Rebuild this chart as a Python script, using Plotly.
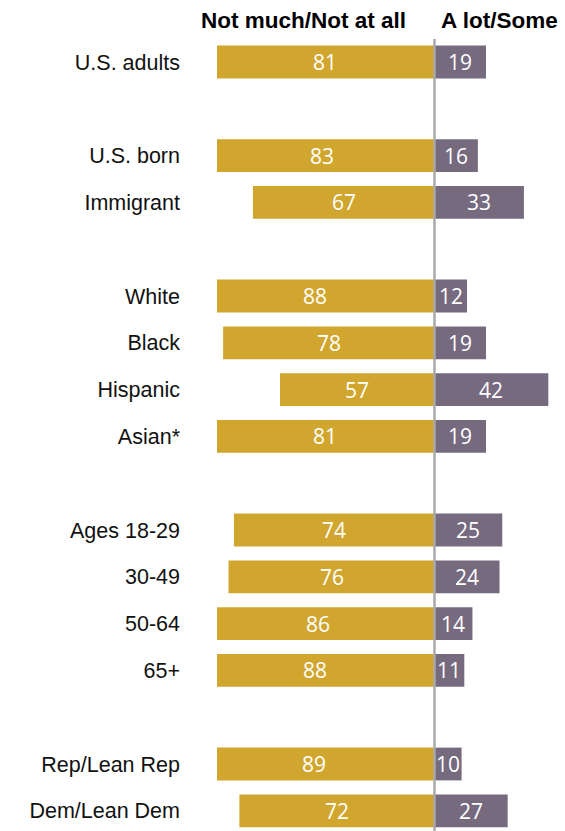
import plotly.graph_objects as go

# Survey groups (blank strings are spacer rows between groups)
groups = ["U.S. adults", "", "U.S. born", "Immigrant", "", "White", "Black", "Hispanic",
          "Asian*", "", "Ages 18-29", "30-49", "50-64", "65+", "", "Rep/Lean Rep", "Dem/Lean Dem"]
not_much = [81, None, 83, 67, None, 88, 78, 57, 81, None, 74, 76, 86, 88, None, 89, 72]
a_lot = [19, None, 16, 33, None, 12, 19, 42, 19, None, 25, 24, 14, 11, None, 10, 27]

GOLD = "#D1A62F"
PURPLE = "#766A7F"
W, H = 565, 831
LEFT = 217          # left edge of plotting area (px)
ZERO = 434.5        # pixel position of the zero line
PX = 2.71           # pixels per percentage point
ROW0, ROWH = 62, 46.8

rows = list(range(len(groups)))
ys = [r for r, v in zip(rows, not_much) if v is not None]
nm = [v for v in not_much if v is not None]
al = [v for v in a_lot if v is not None]
labels = [g for g in groups if g]

fig = go.Figure()
fig.add_trace(go.Bar(y=ys, x=[-v for v in nm], orientation="h", marker_color=GOLD,
                     marker_line_width=0, width=0.70, hoverinfo="skip"))
fig.add_trace(go.Bar(y=ys, x=al, orientation="h", marker_color=PURPLE,
                     marker_line_width=0, width=0.70, hoverinfo="skip"))

# value labels centred on each bar
val_font = dict(family="Open Sans, Liberation Sans", size=21, color="white")
for y, a, b in zip(ys, nm, al):
    fig.add_annotation(x=-a / 2, y=y, text=str(a), showarrow=False, xref="x", yref="y",
                       font=val_font)
    fig.add_annotation(x=b / 2, y=y, text=str(b), showarrow=False, xref="x", yref="y",
                       font=val_font)

# column headers
hdr_font = dict(family="Liberation Sans, Arial", size=22.5, color="black")
fig.add_annotation(x=(408 - ZERO) / PX, y=1 - 20 / H, xref="x", yref="paper",
                   xanchor="right", yanchor="middle",
                   text="<b>Not much/Not at all</b>", showarrow=False, font=hdr_font)
fig.add_annotation(x=(439 - ZERO) / PX, y=1 - 20 / H, xref="x", yref="paper",
                   xanchor="left", yanchor="middle",
                   text="<b>A lot/Some</b>", showarrow=False, font=hdr_font)

# zero line
fig.add_shape(type="line", xref="x", yref="paper", x0=0, x1=0, y0=0, y1=1 - 39 / H,
              line=dict(color="#A9A9A9", width=2.5), layer="above")

xr = [-(ZERO - LEFT) / PX, (W - ZERO) / PX]
yr = [(H - ROW0) / ROWH, -ROW0 / ROWH]

fig.update_layout(
    width=W, height=H, margin=dict(l=LEFT, r=0, t=0, b=0),
    paper_bgcolor="white", plot_bgcolor="white",
    barmode="overlay", showlegend=False,
    xaxis=dict(range=xr, visible=False, fixedrange=True),
    yaxis=dict(range=yr, tickmode="array", tickvals=ys, ticktext=labels,
               showgrid=False, zeroline=False, showline=False, ticks="",
               ticklabelstandoff=36,
               tickfont=dict(family="Liberation Sans, Arial", size=21.5, color="#111111")),
)

fig.write_html("out.html")
